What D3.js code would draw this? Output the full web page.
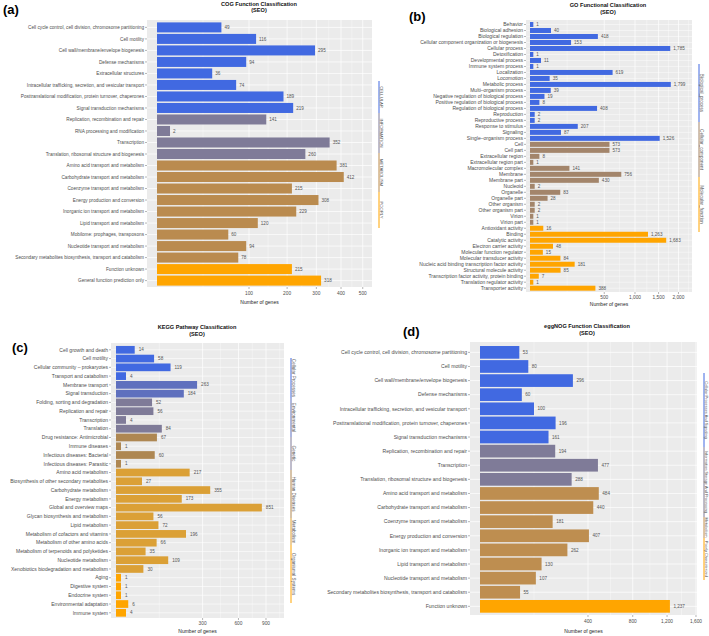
<!DOCTYPE html>
<html><head><meta charset="utf-8">
<script src="https://cdn.jsdelivr.net/npm/d3@7"></script>
<style>
body{margin:0;background:#fff}
svg{display:block}
text{font-family:"Liberation Sans",Arial,Helvetica,sans-serif}
</style>
</head><body>
<svg id="chart" width="709" height="636"></svg>
<script>
// ---------------- DATA ----------------
const cogCategories = ["Cell cycle control, cell division, chromosome partitioning","Cell motility","Cell wall/membrane/envelope biogenesis","Defense mechanisms","Extracellular structures","Intracellular trafficking, secretion, and vesicular transport","Posttranslational modification, protein turnover, chaperones","Signal transduction mechanisms","Replication, recombination and repair","RNA processing and modification","Transcription","Translation, ribosomal structure and biogenesis","Amino acid transport and metabolism","Carbohydrate transport and metabolism","Coenzyme transport and metabolism","Energy production and conversion","Inorganic ion transport and metabolism","Lipid transport and metabolism","Mobilome: prophages, transposons","Nucleotide transport and metabolism","Secondary metabolites biosynthesis, transport and catabolism","Function unknown","General function prediction only"];
const cogValues = [49,116,295,94,36,74,189,219,141,2,352,260,381,412,215,308,229,120,60,94,78,215,318];
const cogGroups = ["C","C","C","C","C","C","C","C","I","I","I","I","M","M","M","M","M","M","M","M","M","P","P"];
const cogGroupNames = ["CELLULAR","INFORMATION","METABOLISM","POORLY"];
const cogTicks = [100,200,300,400,500];

const goCategories = ["Behavior","Biological adhesion","Biological regulation","Cellular component organization or biogenesis","Cellular process","Detoxification","Developmental process","Immune system process","Localization","Locomotion","Metabolic process","Multi–organism process","Negative regulation of biological process","Positive regulation of biological process","Regulation of biological process","Reproduction","Reproductive process","Response to stimulus","Signaling","Single–organism process","Cell","Cell part","Extracellular region","Extracellular region part","Macromolecular complex","Membrane","Membrane part","Nucleoid","Organelle","Organelle part","Other organism","Other organism part","Virion","Virion part","Antioxidant activity","Binding","Catalytic activity","Electron carrier activity","Molecular function regulator","Molecular transducer activity","Nucleic acid binding transcription factor activity","Structural molecule activity","Transcription factor activity, protein binding","Translation regulator activity","Transporter activity"];
const goValues = [1,40,418,153,1785,1,11,1,619,35,1799,39,19,8,408,2,2,207,87,1526,573,573,8,1,141,756,430,2,83,28,2,2,1,1,16,1263,1683,48,15,84,181,85,7,1,388];
const goGroups = [].concat(Array(20).fill("BP"),Array(14).fill("CC"),Array(11).fill("MF"));
const goGroupNames = ["Biological_process","Cellular_component","Molecular_function"];
const goTicks = [500,1000,1500,2000];

const keggCategories = ["Cell growth and death","Cell motility","Cellular community – prokaryotes","Transport and catabolism","Membrane transport","Signal transduction","Folding, sorting and degradation","Replication and repair","Transcription","Translation","Drug resistance: Antimicrobial","Immune diseases","Infectious diseases: Bacterial","Infectious diseases: Parasitic","Amino acid metabolism","Biosynthesis of other secondary metabolites","Carbohydrate metabolism","Energy metabolism","Global and overview maps","Glycan biosynthesis and metabolism","Lipid metabolism","Metabolism of cofactors and vitamins","Metabolism of other amino acids","Metabolism of terpenoids and polyketides","Nucleotide metabolism","Xenobiotics biodegradation and metabolism","Aging","Digestive system","Endocrine system","Environmental adaptation","Immune system"];
const keggValues = [14,58,119,4,263,184,52,56,4,84,67,1,60,1,217,27,355,173,851,56,72,196,66,35,109,30,1,1,1,6,4];
const keggGroups = [].concat(Array(4).fill("CP"),Array(2).fill("EN"),Array(4).fill("GE"),Array(4).fill("HD"),Array(12).fill("ME"),Array(5).fill("OS"));
const keggGroupNames = ["Cellular Processes","Environmental","Genetic","Human Diseases","Metabolism","Organismal Systems"];
const keggTicks = [300,600,900];

const nogCategories = ["Cell cycle control, cell division, chromosome partitioning","Cell motility","Cell wall/membrane/envelope biogenesis","Defense mechanisms","Intracellular trafficking, secretion, and vesicular transport","Posttranslational modification, protein turnover, chaperones","Signal transduction mechanisms","Replication, recombination and repair","Transcription","Translation, ribosomal structure and biogenesis","Amino acid transport and metabolism","Carbohydrate transport and metabolism","Coenzyme transport and metabolism","Energy production and conversion","Inorganic ion transport and metabolism","Lipid transport and metabolism","Nucleotide transport and metabolism","Secondary metabolites biosynthesis, transport and catabolism","Function unknown"];
const nogValues = [53,80,296,60,100,196,161,194,477,288,484,440,181,407,262,130,107,55,1237];
const nogGroups = [].concat(Array(7).fill("C"),Array(3).fill("I"),Array(8).fill("M"),["P"]);
const nogGroupNames = ["Cellular Processes And Signaling","Information Storage And Processing","Metabolism","Poorly Characterized"];
const nogTicks = [400,800,1200,1600];

// ---------------- STYLE ----------------
const BLUE="#4169E1", SLATE="#5F70BE", GRAY="#7F7B98", ORANGE="#FFA500";
const cogColors = {C:BLUE, I:GRAY, M:"#BA8B4F", P:ORANGE};
const goColors = {BP:BLUE, CC:"#A3856B", MF:ORANGE};
const keggColors = {CP:BLUE, EN:SLATE, GE:GRAY, HD:"#AE8752", ME:"#DBA036", OS:ORANGE};
const nogColors = {C:BLUE, I:GRAY, M:"#BE8E50", P:ORANGE};

const svg = d3.select("#chart");
const fmt = d3.format(",");

function panel(cfg, cats, vals, groups, colors, ticks){
  const g = svg.append("g");
  const x = d3.scaleSqrt().domain([0, cfg.xMax]).range([cfg.x0, cfg.bgX[1]]);
  const y = d3.scaleBand().domain(cats).range(cfg.band).padding(cfg.pad);
  // background
  g.append("rect").attr("x",cfg.bgX[0]).attr("y",cfg.bgY[0])
    .attr("width",cfg.bgX[1]-cfg.bgX[0]).attr("height",cfg.bgY[1]-cfg.bgY[0]).attr("fill","#EBEBEB");
  // minor grid (midpoints in sqrt space)
  const s = [0].concat(ticks).map(Math.sqrt);
  const minors = [];
  for(let i=0;i<s.length-1;i++) minors.push(((s[i]+s[i+1])/2)**2);
  const lastStep = s[s.length-1]-s[s.length-2];
  const extra = (s[s.length-1]+lastStep/2)**2;
  if (extra < cfg.xMax) minors.push(extra);
  g.selectAll(".mn").data(minors).join("line")
    .attr("x1",d=>x(d)).attr("x2",d=>x(d)).attr("y1",cfg.bgY[0]).attr("y2",cfg.bgY[1])
    .attr("stroke","#fff").attr("stroke-width",0.35);
  g.selectAll(".mj").data(ticks).join("line")
    .attr("x1",d=>x(d)).attr("x2",d=>x(d)).attr("y1",cfg.bgY[0]).attr("y2",cfg.bgY[1])
    .attr("stroke","#fff").attr("stroke-width",0.7);
  g.selectAll(".hg").data(cats).join("line")
    .attr("x1",cfg.bgX[0]).attr("x2",cfg.bgX[1])
    .attr("y1",d=>y(d)+y.bandwidth()/2).attr("y2",d=>y(d)+y.bandwidth()/2)
    .attr("stroke","#fff").attr("stroke-width",cfg.hgw);
  // bars
  g.selectAll(".bar").data(cats).join("rect")
    .attr("x",x(0)).attr("y",d=>y(d))
    .attr("width",(d,i)=>x(vals[i])-x(0)).attr("height",y.bandwidth())
    .attr("fill",(d,i)=>colors[groups[i]]);
  // value labels
  g.selectAll(".val").data(cats).join("text")
    .attr("x",(d,i)=>x(vals[i])+cfg.valOff).attr("y",d=>y(d)+y.bandwidth()/2)
    .attr("dy","0.35em").attr("font-size",cfg.fVal).attr("fill","#555")
    .text((d,i)=>fmt(vals[i]));
  // y axis labels + ticks
  g.selectAll(".yt").data(cats).join("line")
    .attr("x1",cfg.bgX[0]-2).attr("x2",cfg.bgX[0])
    .attr("y1",d=>y(d)+y.bandwidth()/2).attr("y2",d=>y(d)+y.bandwidth()/2)
    .attr("stroke","#444").attr("stroke-width",0.4);
  g.selectAll(".yl").data(cats).join("text")
    .attr("x",cfg.bgX[0]-3).attr("y",d=>y(d)+y.bandwidth()/2)
    .attr("dy","0.35em").attr("text-anchor","end").attr("font-size",cfg.fCat).attr("fill","#4D4D4D")
    .text(d=>d);
  // x axis
  g.selectAll(".xt").data(ticks).join("line")
    .attr("x1",d=>x(d)).attr("x2",d=>x(d)).attr("y1",cfg.bgY[1]).attr("y2",cfg.bgY[1]+2)
    .attr("stroke","#444").attr("stroke-width",0.4);
  g.selectAll(".xl").data(ticks).join("text")
    .attr("x",d=>x(d)).attr("y",cfg.tickY).attr("text-anchor","middle")
    .attr("font-size",cfg.fTick).attr("fill","#4D4D4D").text(d=>fmt(d));
  g.append("text").attr("x",(cfg.bgX[0]+cfg.bgX[1])/2).attr("y",cfg.axTitleY)
    .attr("text-anchor","middle").attr("font-size",cfg.fAx).attr("fill","#222").text("Number of genes");
  // titles
  g.append("text").attr("x",cfg.titleX).attr("y",cfg.titleY).attr("text-anchor","middle")
    .attr("font-size",cfg.fTitle).attr("font-weight","bold").attr("fill","#111").text(cfg.title);
  g.append("text").attr("x",cfg.titleX).attr("y",cfg.titleY+6.5).attr("text-anchor","middle")
    .attr("font-size",cfg.fTitle).attr("font-weight","bold").attr("fill","#111").text("(SEO)");
  g.append("text").attr("x",cfg.tag[0]).attr("y",cfg.tag[1])
    .attr("font-size",13).attr("font-weight","bold").attr("fill","#000").text(cfg.tagText);
  // group strip
  const st = cfg.strip;
  st.segs.forEach((sg,i)=>{
    g.append("line").attr("x1",st.x).attr("x2",st.x).attr("y1",sg[0]).attr("y2",sg[1])
      .attr("stroke",colors[st.keys[i]]).attr("stroke-width",1);
    g.append("text").attr("transform",`translate(${st.x+1.3},${(sg[0]+sg[1])/2}) rotate(90)`)
      .attr("text-anchor","middle").attr("font-size",st.f).attr("fill","#555").text(st.names[i]);
  });
}

panel({bgX:[147,372],bgY:[20,287],x0:157,xMax:546,band:[20.9,287.1],pad:0.13,hgw:0.7,
  valOff:3,fVal:4.6,fCat:4.7,fTick:4.8,fAx:5,tickY:295,axTitleY:303.5,
  title:"COG Function Classification",titleX:259,titleY:5.5,fTitle:5.6,tag:[3,14],tagText:"(a)",
  strip:{x:379,f:4.2,keys:["C","I","M","P"],names:cogGroupNames,segs:[[81,113],[113,153],[153,192],[192,228]]}},
  cogCategories,cogValues,cogGroups,cogColors,cogTicks);

panel({bgX:[526,692],bgY:[20,292],x0:530,xMax:2381,band:[21,291.7],pad:0.17,hgw:0.45,
  valOff:3,fVal:4.6,fCat:5,fTick:4.8,fAx:5,tickY:298.5,axTitleY:305.5,
  title:"GO Functional Classification",titleX:608,titleY:7,fTitle:5.6,tag:[409,21],tagText:"(b)",
  strip:{x:699,f:4.6,keys:["BP","CC","MF"],names:goGroupNames,segs:[[64,122],[122,177],[177,232]]}},
  goCategories,goValues,goGroups,goColors,goTicks);

panel({bgX:[111,284],bgY:[343,618],x0:116,xMax:1129,band:[344.9,617.7],pad:0.12,hgw:0.6,
  valOff:4,fVal:4.6,fCat:5,fTick:4.8,fAx:5,tickY:624.5,axTitleY:633,
  title:"KEGG Pathway Classification",titleX:197,titleY:329,fTitle:5.6,tag:[12,352],tagText:"(c)",
  strip:{x:291,f:4.6,keys:["CP","EN","GE","HD","ME","OS"],names:keggGroupNames,segs:[[358,398],[398,437],[437,470],[470,518],[518,545],[545,603]]}},
  keggCategories,keggValues,keggGroups,keggColors,keggTicks);

panel({bgX:[470,697],bgY:[342,615],x0:480,xMax:1615,band:[344.6,614.1],pad:0.1,hgw:0.7,
  valOff:3.5,fVal:4.6,fCat:5.1,fTick:4.8,fAx:5,tickY:623,axTitleY:633,
  title:"eggNOG Function Classification",titleX:587,titleY:328,fTitle:5.6,tag:[403,336],tagText:"(d)",
  strip:{x:704,f:3.9,keys:["C","I","M","P"],names:nogGroupNames,segs:[[373,447],[447,517],[517,538],[538,580]]}},
  nogCategories,nogValues,nogGroups,nogColors,nogTicks);
</script>
</body></html>
